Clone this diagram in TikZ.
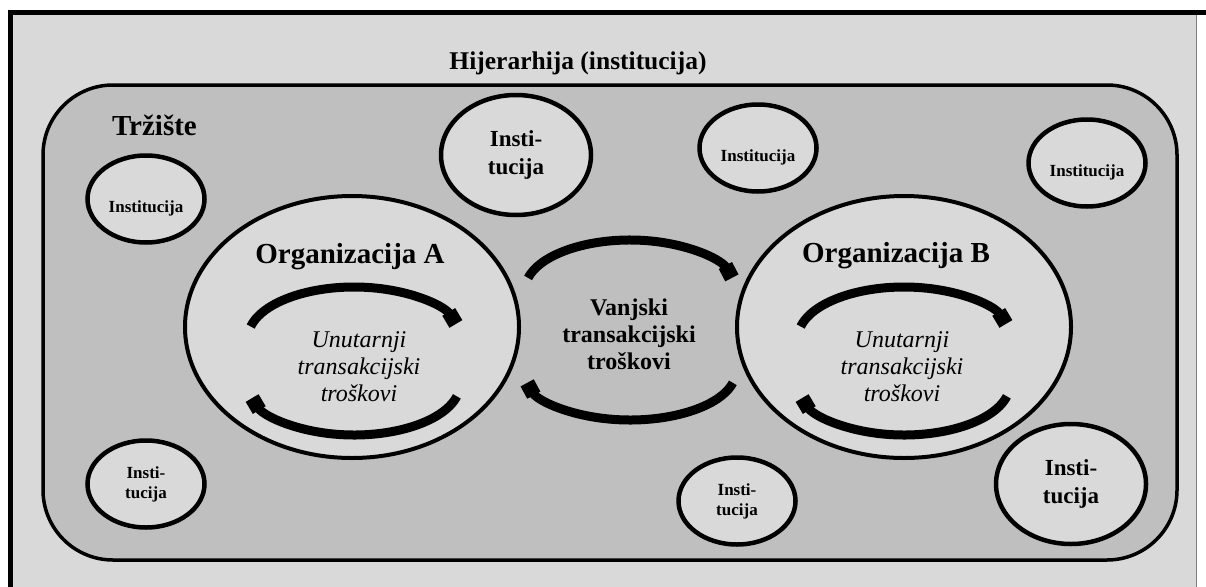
\documentclass[tikz,border=0pt]{standalone}
\usepackage{fontspec}
\setmainfont{Liberation Serif}
\usetikzlibrary{shapes.geometric,arrows.meta}
\definecolor{lightg}{RGB}{217,217,217}
\definecolor{midg}{RGB}{191,191,191}
\begin{document}
\begin{tikzpicture}[x=1pt,y=-1pt,
  every node/.style={inner sep=0pt, outer sep=0pt},
  instone/.style={ellipse, draw, line width=4.5pt, fill=lightg, minimum width=117pt, minimum height=87pt,
    text height=27pt, text depth=0pt, font=\bfseries\fontsize{17}{20}\selectfont},
  insttwo/.style={ellipse, draw, line width=4.5pt, fill=lightg, minimum width=117pt, minimum height=87pt,
    align=center, font=\bfseries\fontsize{17}{20}\selectfont},
  instbig/.style={ellipse, draw, line width=4.5pt, fill=lightg, minimum width=150pt, minimum height=120pt,
    align=center, font=\bfseries\fontsize{23}{28}\selectfont},
  org/.style={ellipse, draw, line width=4pt, fill=lightg, minimum width=334pt, minimum height=262pt},
  flow/.style={line width=9pt, -{Rectangle[length=14pt,width=15pt]}},
  lbl/.style={font=\bfseries\fontsize{29}{33}\selectfont},
  cost/.style={align=center, font=\itshape\fontsize{24}{27}\selectfont},
]
\useasboundingbox (0,0) rectangle (1206,586);
\fill[white] (0,0) rectangle (1206,586);
\fill[lightg] (10,12.5) rectangle (1196,590);
\draw[gray, line width=1pt] (1196,12.5) -- (1196,590);
\draw[line width=5pt] (10,600) -- (10,12.5) -- (1210,12.5);
\draw[line width=3.5pt, fill=midg, rounded corners=70pt] (43,85) rectangle (1177,560);

\node[instone] (i1) at (146,199) {Institucija};
\node[instbig] (i2) at (516,155) {Insti-\\tucija};
\node[instone] (i3) at (758,148) {Institucija};
\node[instone] (i4) at (1087,163) {Institucija};
\node[insttwo] (i5) at (146,484) {Insti-\\tucija};
\node[insttwo] (i6) at (737,501) {Insti-\\tucija};
\node[instbig] (i7) at (1071,484) {Insti-\\tucija};

\node[org] (orgA) at (352,327) {};
\node[org] (orgB) at (904,327) {};

\draw[flow] (354,338) ++(193:106 and 51) arc[start angle=193,end angle=344,x radius=106,y radius=51];
\draw[flow] (354,384) ++(14:106 and 51) arc[start angle=14,end angle=164,x radius=106,y radius=51];
\draw[flow] (904,338) ++(193:106 and 51) arc[start angle=193,end angle=344,x radius=106,y radius=51];
\draw[flow] (904,384) ++(14:106 and 51) arc[start angle=14,end angle=164,x radius=106,y radius=51];
\draw[flow] (630,290) ++(194:105 and 50) arc[start angle=194,end angle=346,x radius=105,y radius=50];
\draw[flow] (630,371) ++(14:106 and 49) arc[start angle=14,end angle=166,x radius=106,y radius=49];

\node[font=\bfseries\fontsize{25.5}{30}\selectfont, anchor=base] (title) at (578,69) {Hijerarhija (institucija)};
\node[lbl, anchor=base west] (market) at (112,135) {Tržište};
\node[lbl, anchor=base] (orgAt) at (350,263) {Organizacija A};
\node[lbl, anchor=base] (orgBt) at (896,262) {Organizacija B};
\node[cost] (intA) at (359,367) {Unutarnji\\transakcijski\\troškovi};
\node[cost] (intB) at (902,367) {Unutarnji\\transakcijski\\troškovi};
\node[align=center, font=\bfseries\fontsize{24}{27}\selectfont] (ext) at (629,334) {Vanjski\\transakcijski\\troškovi};
\end{tikzpicture}
\end{document}
